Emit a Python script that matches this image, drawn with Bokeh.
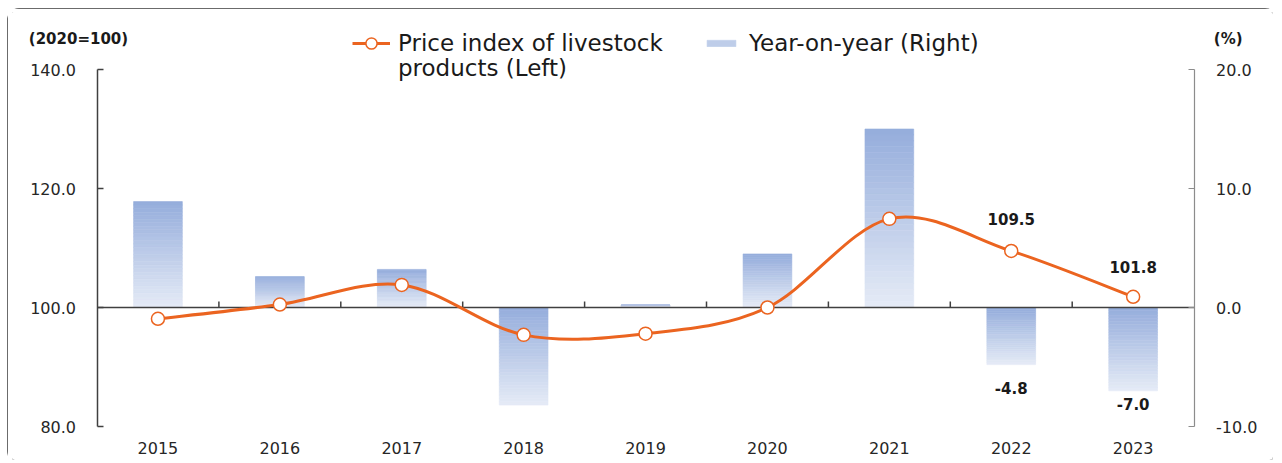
import numpy as np
from bokeh.plotting import figure
from bokeh.models import (Range1d, LinearAxis, FixedTicker, NumeralTickFormatter,
                          ColumnDataSource, Legend, LegendItem, Label)
from bokeh.embed import file_html
from bokeh.resources import INLINE
from bokeh.core.properties import value

# ---------------- data ----------------
years = ["2015", "2016", "2017", "2018", "2019", "2020", "2021", "2022", "2023"]
index_vals = [98.1, 100.5, 103.8, 95.4, 95.6, 100.0, 114.9, 109.5, 101.8]
yoy_vals = [8.9, 2.6, 3.2, -8.2, 0.2, 4.5, 15.0, -4.8, -7.0]
left_ticks = [80, 100, 120, 140]
right_ticks = [-10, 0, 10, 20]
labeled_years = ["2022", "2023"]
left_unit = "(2020=100)"
right_unit = "(%)"
line_name = ["Price index of livestock", "products (Left)"]
bar_name = "Year-on-year (Right)"

# ---------------- style / layout ----------------
ORANGE = "#EB6420"
DARK = "#404040"
TXT = "#262626"
TICK_FONT = "DejaVu Sans"
line_label_dy = [-32, -30]
bar_label_dy = [23, 13]

W, H = 1270, 455                # figure placed at page (7, 8) by CSS margin
OX, OY = 7, 8
FR_L, FR_R, FR_T, FR_B = 12, 1272, 12, 459    # frame edges, page pixels
PLOT_L, CAT_W = 96.5, 121.9                   # left axis position, category width
AXIS_B, AXIS_PX = 426, 357                    # page y of axis bottom, axis length

n = len(years)
xs = np.arange(1, n + 1)

def x_of(px):
    return 0.5 + (px - PLOT_L) / CAT_W

lo_l, hi_l = min(left_ticks), max(left_ticks)
lo_r, hi_r = min(right_ticks), max(right_ticks)

def yrange(lo, hi):
    k = (hi - lo) / AXIS_PX
    return Range1d(lo - k * (FR_B - AXIS_B), lo + k * (AXIS_B - FR_T))

def yl_of(py):
    return lo_l + (hi_l - lo_l) * (AXIS_B - py) / AXIS_PX

p = figure(width=W, height=H, output_backend="svg", toolbar_location=None,
           x_range=Range1d(x_of(FR_L), x_of(FR_R)), y_range=yrange(lo_l, hi_l),
           y_axis_location=None,
           min_border_left=FR_L - OX, min_border_right=OX + W - FR_R,
           min_border_top=FR_T - OY, min_border_bottom=OY + H - FR_B)
p.styles = {"margin-left": "%dpx" % OX, "margin-top": "%dpx" % OY,
            "outline": "2px solid #3a3a3a", "outline-offset": "-2px",
            "border-radius": "12px"}
p.extra_y_ranges = {"right": yrange(lo_r, hi_r)}
p.grid.visible = False
p.outline_line_color = None

# x axis (labels only), drawn on the bottom of the value axes
p.xaxis.fixed_location = lo_l
p.xaxis.ticker = FixedTicker(ticks=list(xs))
p.xaxis.major_label_overrides = {int(x): y for x, y in zip(xs, years)}
p.xaxis.axis_line_color = None
p.xaxis.major_tick_line_color = None
p.xaxis.minor_tick_line_color = None
p.xaxis.major_label_standoff = 9
p.xaxis.major_label_text_font = TICK_FONT
p.xaxis.major_label_text_font_size = "16px"
p.xaxis.major_label_text_color = TXT

def y_axis(rng, ticks, loc, color, width, standoff):
    a = LinearAxis(y_range_name=rng, fixed_location=loc)
    a.ticker = FixedTicker(ticks=ticks)
    a.bounds = (min(ticks), max(ticks))
    a.formatter = NumeralTickFormatter(format="0.0")
    a.axis_line_color = color
    a.axis_line_width = width
    a.major_tick_in = 6
    a.major_tick_out = 0
    a.major_tick_line_color = color
    a.major_tick_line_width = width
    a.minor_tick_line_color = None
    a.major_label_standoff = standoff
    a.major_label_text_font = TICK_FONT
    a.major_label_text_font_size = "16px"
    a.major_label_text_color = TXT
    return a

p.add_layout(y_axis("default", left_ticks, 0.5, DARK, 1.5, 21), "left")
p.add_layout(y_axis("right", right_ticks, n + 0.5, "#8c8c8c", 1.2, 22), "right")

# unit captions
for txt, px in ((left_unit, 28.3), (right_unit, 1213.3)):
    p.add_layout(Label(x=x_of(px), y=yl_of(38), text=txt, text_font="DejaVu Sans",
                       text_font_style="bold", text_font_size="15px",
                       text_color="#1a1a1a", text_baseline="middle", text_align="left"))

# ---------------- gradient bars (right axis) ----------------
bar_w = 0.4
N = 30
top_rgb = np.array([0x95, 0xAD, 0xDC])
bot_rgb = np.array([0xE6, 0xEC, 0xF7])
L, R, T, B, C = [], [], [], [], []
for x, v in zip(xs, yoy_vals):
    hi, lo = max(0.0, v), min(0.0, v)
    edges = np.linspace(hi, lo, N + 1)
    for k in range(N):
        t = (k + 0.5) / N
        rgb = (top_rgb * (1 - t) + bot_rgb * t).astype(int)
        L.append(x - bar_w / 2); R.append(x + bar_w / 2)
        T.append(edges[k]); B.append(edges[k + 1])
        C.append("#%02x%02x%02x" % tuple(rgb))
bars_r = p.quad(left=L, right=R, top=T, bottom=B, fill_color=C, line_color=C,
                line_width=0.6, y_range_name="right")

# zero line with category boundary ticks
p.segment(x0=[0.5], y0=[100], x1=[n + 0.5], y1=[100], line_color=DARK, line_width=1.5)
bnd = xs[:-1] + 0.5
p.segment(x0=bnd, y0=[100] * len(bnd), x1=bnd, y1=[101] * len(bnd),
          line_color=DARK, line_width=1.5)

# ---------------- smoothed line (Catmull-Rom -> cubic Bezier) ----------------
pts = np.column_stack([xs, np.array(index_vals)])
x0, y0, x1, y1, cx0, cy0, cx1, cy1 = ([] for _ in range(8))
for i in range(n - 1):
    P0 = pts[max(i - 1, 0)]; P1 = pts[i]; P2 = pts[i + 1]; P3 = pts[min(i + 2, n - 1)]
    c1 = P1 + (P2 - P0) / 6.0
    c2 = P2 - (P3 - P1) / 6.0
    x0.append(P1[0]); y0.append(P1[1]); x1.append(P2[0]); y1.append(P2[1])
    cx0.append(c1[0]); cy0.append(c1[1]); cx1.append(c2[0]); cy1.append(c2[1])
line_r = p.bezier(x0=x0, y0=y0, x1=x1, y1=y1, cx0=cx0, cy0=cy0, cx1=cx1, cy1=cy1,
                  line_color=ORANGE, line_width=3)
mk = p.scatter(x=xs, y=index_vals, size=13, fill_color="white", line_color=ORANGE,
               line_width=1.5)

# ---------------- data labels ----------------
idx = [years.index(y) for y in labeled_years]
src_line = ColumnDataSource(dict(x=[xs[i] for i in idx], y=[index_vals[i] for i in idx],
                                 t=["%.1f" % index_vals[i] for i in idx], dy=line_label_dy))
p.text(x="x", y="y", text="t", source=src_line, y_offset="dy", text_align="center",
       text_baseline="middle", text_font=value("DejaVu Sans"), text_font_style="bold",
       text_font_size="15px", text_color="#1a1a1a")
src_bar = ColumnDataSource(dict(x=[xs[i] for i in idx], y=[yoy_vals[i] for i in idx],
                                t=["%.1f" % yoy_vals[i] for i in idx], dy=bar_label_dy))
p.text(x="x", y="y", text="t", source=src_bar, y_offset="dy", text_align="center",
       text_baseline="middle", text_font=value("DejaVu Sans"), text_font_style="bold",
       text_font_size="15px", text_color="#1a1a1a", y_range_name="right")

# ---------------- legends ----------------
LEG_FONT = dict(label_text_font="DejaVu Sans", label_text_font_size="23px",
                label_text_color="#1a1a1a", padding=0, margin=0,
                border_line_color=None, background_fill_alpha=0)
LINE1_CY = 43      # page y of first legend line centre
LINE_GAP = 24.5
ROW_H = 28

def leg_loc(px, cy):
    return (px - FR_L, FR_B - (cy + ROW_H / 2))

p.add_layout(Legend(items=[LegendItem(label=line_name[0], renderers=[line_r, mk])],
                    location=leg_loc(352, LINE1_CY), glyph_width=38, glyph_height=ROW_H,
                    label_standoff=8, label_height=ROW_H, **LEG_FONT), "center")
p.add_layout(Legend(items=[LegendItem(label=line_name[1], renderers=[line_r])],
                    location=leg_loc(398, LINE1_CY + LINE_GAP), glyph_width=0,
                    glyph_height=ROW_H, label_standoff=0, label_height=ROW_H,
                    **LEG_FONT), "center")
p.add_layout(Legend(items=[LegendItem(label=bar_name, renderers=[bars_r], index=N // 2)],
                    location=leg_loc(703, LINE1_CY), glyph_width=36, glyph_height=8,
                    label_standoff=10, label_height=ROW_H, **LEG_FONT), "center")

open("out.html", "w").write(file_html(p, INLINE))
